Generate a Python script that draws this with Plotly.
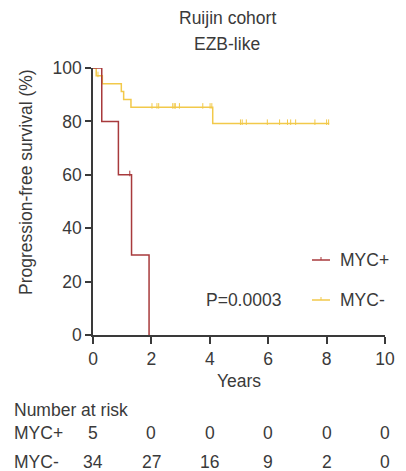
import plotly.graph_objects as go

# ---- data ----
myc_pos_t = [0, 0.30, 0.87, 1.32, 1.92]
myc_pos_s = [100, 80, 60, 30, 0]
myc_pos_cens_t = [1.26]
myc_pos_cens_s = [60]

myc_neg_t = [0, 0.11, 0.32, 0.97, 1.05, 1.30, 4.10, 8.09]
myc_neg_s = [100, 97.1, 94.1, 91.2, 88.2, 85.3, 79.2, 79.2]
myc_neg_cens_t = [0.17, 2.02, 2.19, 2.25, 2.73, 2.78, 2.82, 2.96, 3.76, 4.01, 4.07,
                  5.05, 5.11, 5.25, 5.97, 6.39, 6.66, 6.77, 6.94, 7.60, 8.00, 8.07]
myc_neg_cens_s = [97.1] + [85.3] * 10 + [79.2] * 11

risk_times = [0, 2, 4, 6, 8, 10]
risk_pos = [5, 0, 0, 0, 0, 0]
risk_neg = [34, 27, 16, 9, 2, 0]

x_ticks = [0, 2, 4, 6, 8, 10]
y_ticks = [0, 20, 40, 60, 80, 100]

RED = "#a83a3c"
YEL = "#f2c94a"
TXT = "#3a3a3a"
FONT = "Liberation Sans, Arial, sans-serif"
FS = 17.5
TICK_LIFT = 0.5  # censor ticks drawn mostly above the curve

W, H = 406, 471
L, R, T, B = 93, 21, 68, 136
PH = H - T - B
PW = W - L - R


def py(pix):
    return (H - B - pix) / PH


def px(pix):
    return (pix - L) / PW


fig = go.Figure()
fig.add_trace(go.Scatter(x=myc_neg_t, y=myc_neg_s, mode="lines", line=dict(color=YEL, width=1.5, shape="hv"),
                         showlegend=False, hoverinfo="skip"))
fig.add_trace(go.Scatter(x=myc_neg_cens_t, y=[v + TICK_LIFT for v in myc_neg_cens_s], mode="markers",
                         marker=dict(symbol="line-ns", size=4, line=dict(color=YEL, width=1)),
                         showlegend=False, hoverinfo="skip"))
fig.add_trace(go.Scatter(x=myc_pos_t, y=myc_pos_s, mode="lines", line=dict(color=RED, width=1.5, shape="hv"),
                         showlegend=False, hoverinfo="skip"))
fig.add_trace(go.Scatter(x=myc_pos_cens_t, y=[v + TICK_LIFT for v in myc_pos_cens_s], mode="markers",
                         marker=dict(symbol="line-ns", size=4, line=dict(color=RED, width=1)),
                         showlegend=False, hoverinfo="skip"))


def txt(s, x, y, anchor="center", xref="paper", angle=0):
    return dict(text=s, x=x, y=y, xref=xref, yref="paper", showarrow=False, textangle=angle,
                font=dict(size=FS, color=TXT, family=FONT), xanchor=anchor, yanchor="middle")


ann = [
    txt("Ruijin cohort", px(227), py(18)),
    txt("EZB-like", px(227), py(44)),
    txt("Progression-free survival (%)", px(26), py(182), angle=-90),
    txt("Years", px(239), py(381)),
    txt("Number at risk", px(12), py(410), "left"),
    txt("MYC+", px(12), py(433), "left"),
    txt("MYC-", px(12), py(462), "left"),
    txt("P=0.0003", px(243), py(300)),
    txt("MYC+", px(338), py(260), "left"),
    txt("MYC-", px(338), py(300), "left"),
]
for t, a, b in zip(risk_times, risk_pos, risk_neg):
    ann.append(txt(str(a), t, py(433), xref="x"))
    ann.append(txt(str(b), t, py(462), xref="x"))

shapes = []
for yy, c in [(260, RED), (300, YEL)]:
    shapes.append(dict(type="line", xref="paper", yref="paper", x0=px(312), x1=px(330), y0=py(yy), y1=py(yy),
                       line=dict(color=c, width=1.5)))
    shapes.append(dict(type="line", xref="paper", yref="paper", x0=px(321), x1=px(321), y0=py(yy - 3), y1=py(yy),
                       line=dict(color=c, width=1)))

fig.update_layout(
    width=W, height=H, margin=dict(l=L, r=R, t=T, b=B),
    paper_bgcolor="white", plot_bgcolor="white",
    font=dict(family=FONT, color=TXT, size=FS),
    annotations=ann, shapes=shapes, showlegend=False,
    xaxis=dict(range=[0, 10], tickvals=x_ticks, ticks="outside", ticklen=7, tickwidth=1.5, tickcolor=TXT,
               showline=True, linecolor=TXT, linewidth=1.5, showgrid=False, zeroline=False,
               tickfont=dict(size=FS, color=TXT)),
    yaxis=dict(range=[0, 100], tickvals=y_ticks, ticks="outside", ticklen=6, tickwidth=1.5, tickcolor=TXT,
               showline=True, linecolor=TXT, linewidth=1.5, showgrid=False, zeroline=False,
               tickfont=dict(size=FS, color=TXT)),
)
fig.write_html("out.html")
